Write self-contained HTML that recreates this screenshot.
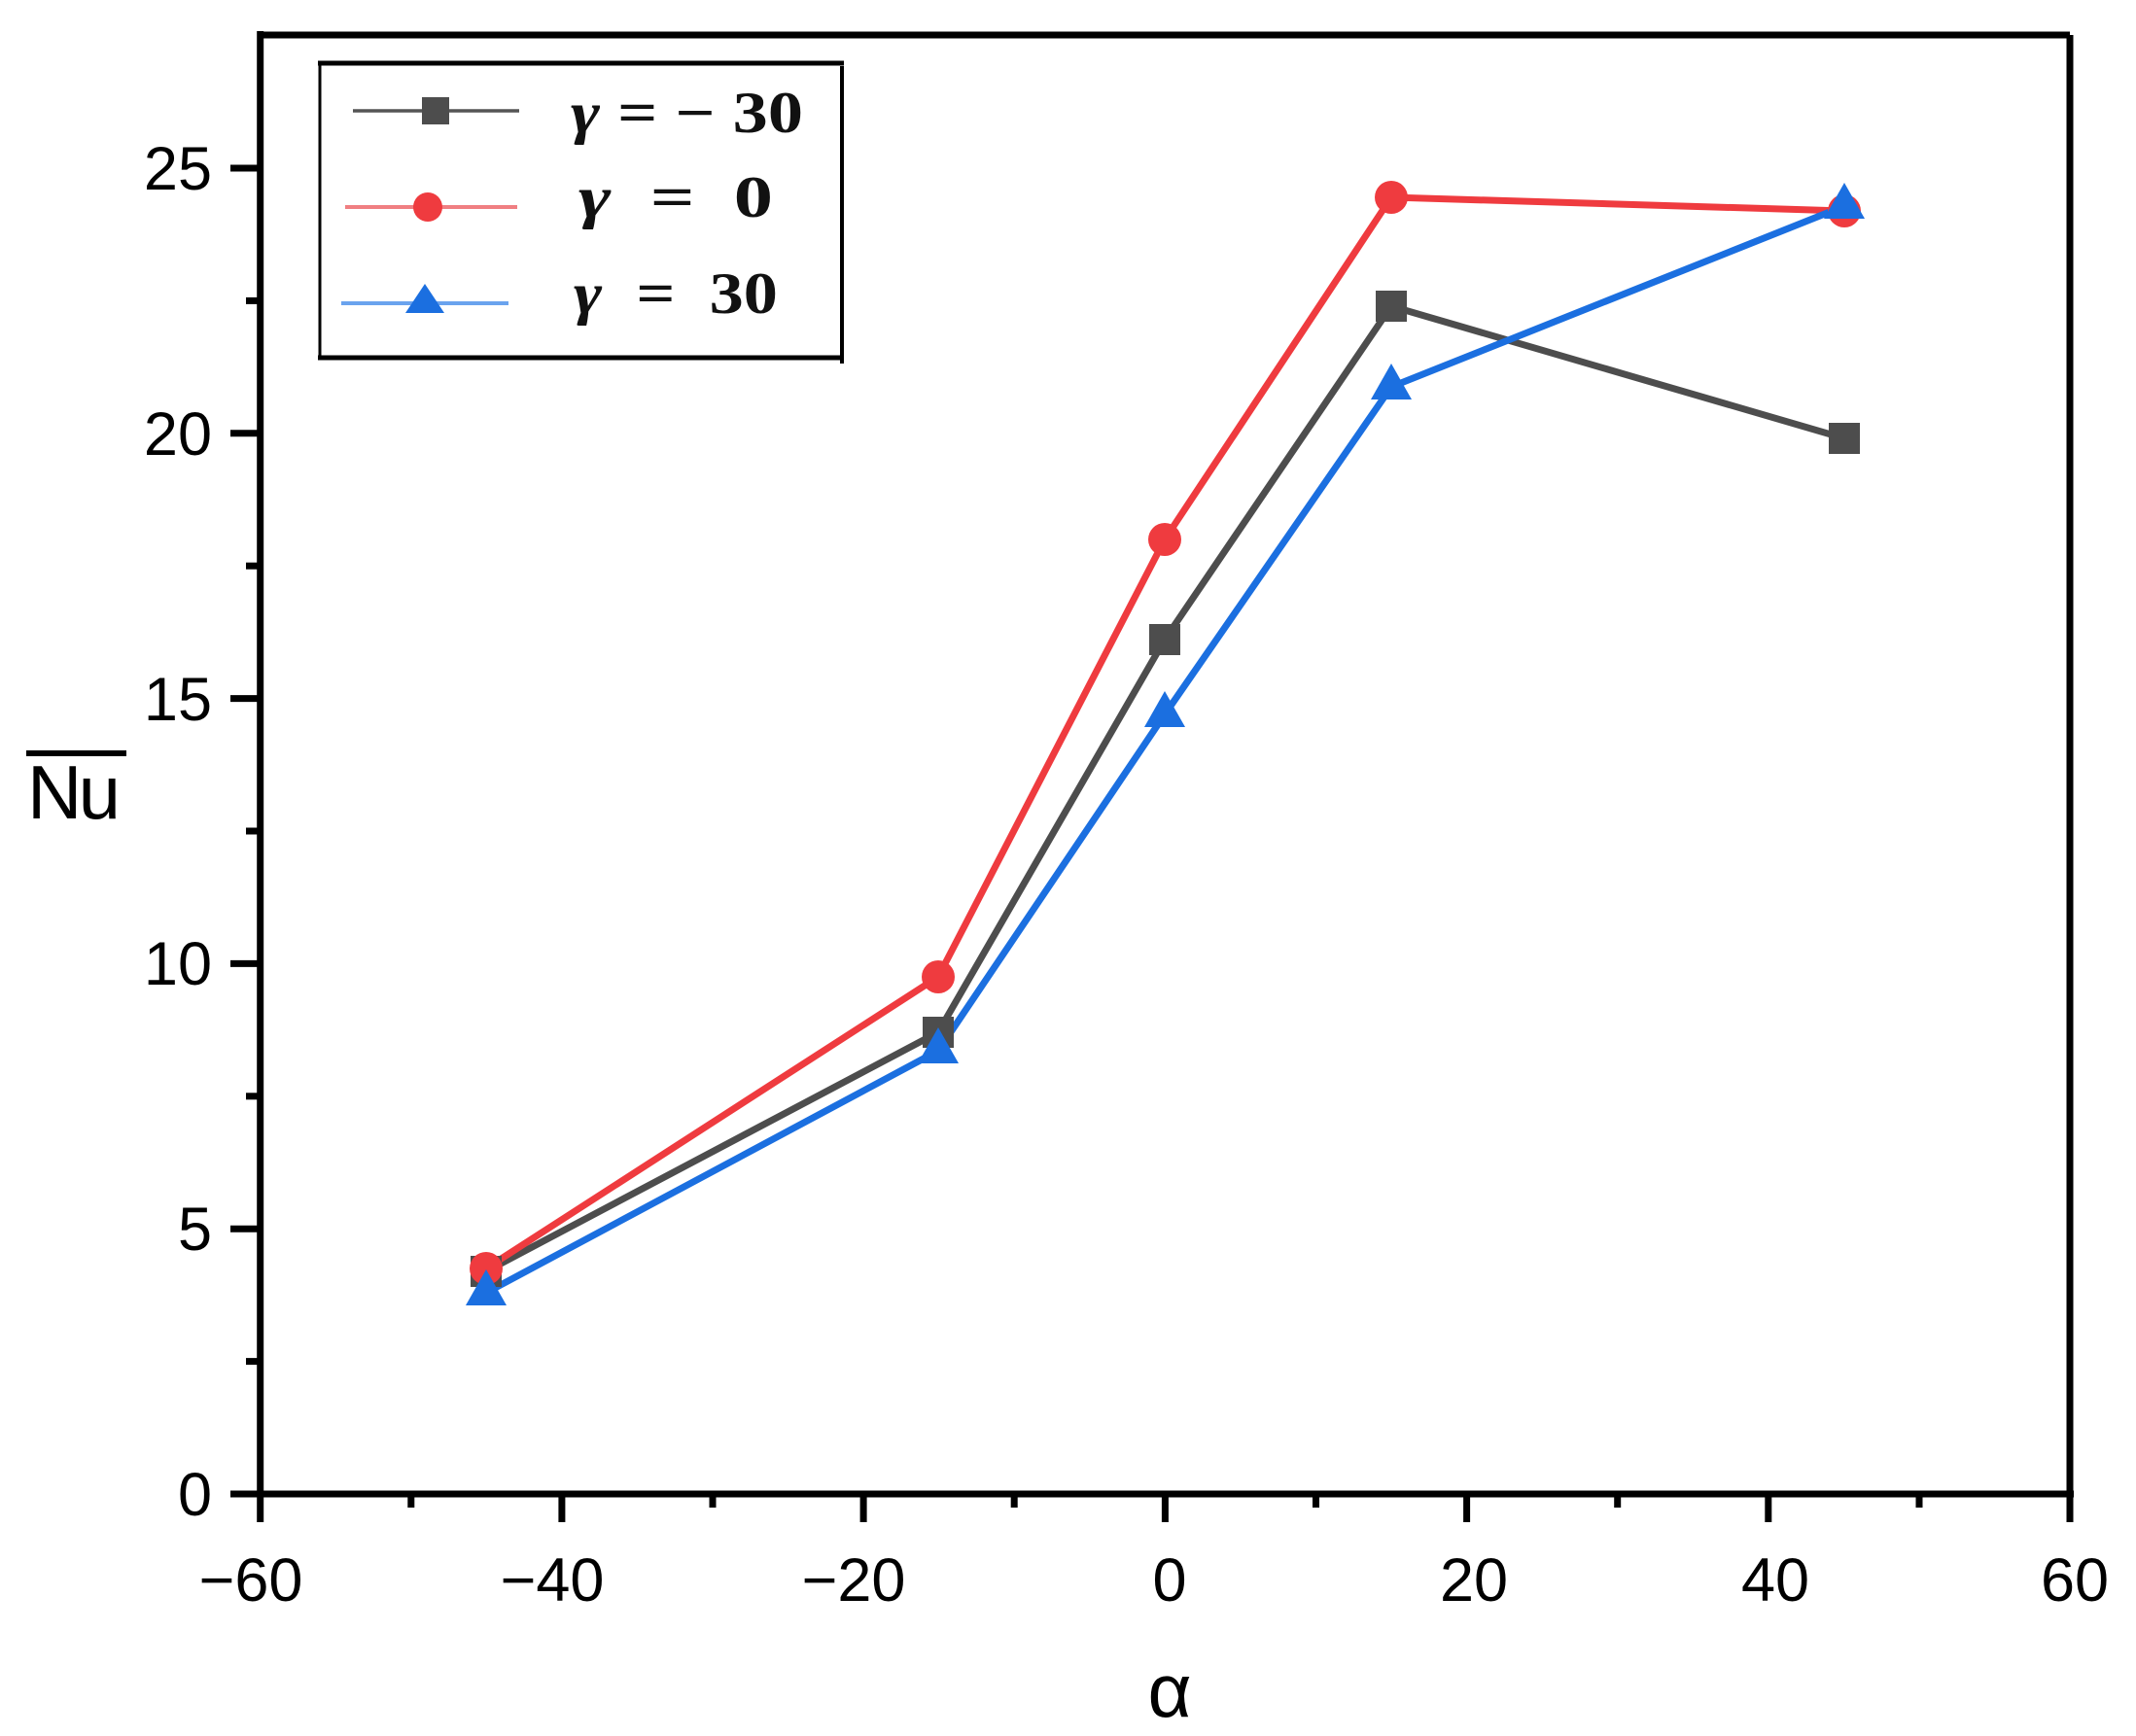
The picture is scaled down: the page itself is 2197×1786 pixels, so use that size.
<!DOCTYPE html>
<html><head><meta charset="utf-8"><style>html,body{margin:0;padding:0;background:#fff}svg{display:block}</style></head>
<body>
<svg width="2197" height="1786" viewBox="0 0 2197 1786" xmlns="http://www.w3.org/2000/svg">
<rect width="2197" height="1786" fill="#fff"/>
<g stroke="#000" stroke-width="7" fill="none">
<line x1="267.7" y1="36" x2="2129" y2="36"/>
<line x1="2129" y1="36" x2="2129" y2="1537"/>
<line x1="237" y1="1537" x2="2133" y2="1537"/>
<line x1="267.7" y1="32" x2="267.7" y2="1566"/>
<line x1="577.9" y1="1537" x2="577.9" y2="1566"/>
<line x1="888.1" y1="1537" x2="888.1" y2="1566"/>
<line x1="1198.4" y1="1537" x2="1198.4" y2="1566"/>
<line x1="1508.6" y1="1537" x2="1508.6" y2="1566"/>
<line x1="1818.8" y1="1537" x2="1818.8" y2="1566"/>
<line x1="2129" y1="1537" x2="2129" y2="1566"/>
<line x1="422.8" y1="1537" x2="422.8" y2="1551"/>
<line x1="733" y1="1537" x2="733" y2="1551"/>
<line x1="1043.2" y1="1537" x2="1043.2" y2="1551"/>
<line x1="1353.5" y1="1537" x2="1353.5" y2="1551"/>
<line x1="1663.7" y1="1537" x2="1663.7" y2="1551"/>
<line x1="1974" y1="1537" x2="1974" y2="1551"/>
<line x1="237" y1="1264.2" x2="267.7" y2="1264.2"/>
<line x1="237" y1="991.4" x2="267.7" y2="991.4"/>
<line x1="237" y1="718.6" x2="267.7" y2="718.6"/>
<line x1="237" y1="445.8" x2="267.7" y2="445.8"/>
<line x1="237" y1="173" x2="267.7" y2="173"/>
<line x1="253" y1="1400.6" x2="267.7" y2="1400.6"/>
<line x1="253" y1="1127.8" x2="267.7" y2="1127.8"/>
<line x1="253" y1="855" x2="267.7" y2="855"/>
<line x1="253" y1="582.2" x2="267.7" y2="582.2"/>
<line x1="253" y1="309.4" x2="267.7" y2="309.4"/>
</g>
<g font-family="Liberation Sans, Arial, sans-serif" font-size="63" fill="#000">
<g text-anchor="middle">
<text x="258" y="1647">−60</text>
<text x="568" y="1647">−40</text>
<text x="878" y="1647">−20</text>
<text x="1203" y="1647">0</text>
<text x="1516" y="1647">20</text>
<text x="1826" y="1647">40</text>
<text x="2134" y="1647">60</text>
</g>
<g text-anchor="end">
<text x="218" y="1559">0</text>
<text x="218" y="1286">5</text>
<text x="218" y="1013">10</text>
<text x="218" y="741">15</text>
<text x="218" y="468">20</text>
<text x="218" y="195">25</text>
</g>
</g>
<text x="28" y="842" font-family="Liberation Sans, Arial, sans-serif" font-size="78" fill="#000" textLength="96">Nu</text>
<line x1="27" y1="775" x2="130" y2="775" stroke="#000" stroke-width="6"/>
<text x="1203" y="1766" text-anchor="middle" font-family="Liberation Sans, Arial, sans-serif" font-size="78" fill="#000">α</text>
<g fill="none" stroke-width="7" stroke-linejoin="round">
<polyline stroke="#4d4d4d" points="500,1308 965,1062 1198,658 1431,315 1897,451"/>
<polyline stroke="#ef3b3f" points="500,1305 965,1005 1198,555 1431,203 1897,217"/>
<polyline stroke="#1b6fe0" points="500,1330 965,1081 1198,735 1431,398 1897,212"/>
</g>
<g fill="#4d4d4d">
<rect x="484" y="1292" width="32" height="32"/>
<rect x="949" y="1046" width="32" height="32"/>
<rect x="1182" y="642" width="32" height="32"/>
<rect x="1415" y="299" width="32" height="32"/>
<rect x="1881" y="435" width="32" height="32"/>
</g>
<g fill="#ef3b3f">
<circle cx="500" cy="1305" r="17"/>
<circle cx="965" cy="1005" r="17"/>
<circle cx="1198" cy="555" r="17"/>
<circle cx="1431" cy="203" r="17"/>
<circle cx="1897" cy="217" r="17"/>
</g>
<g fill="#1b6fe0">
<polygon points="500,1306 479,1343 521,1343"/>
<polygon points="965,1057 944,1094 986,1094"/>
<polygon points="1198,711 1177,748 1219,748"/>
<polygon points="1431,374 1410,411 1452,411"/>
<polygon points="1897,188 1876,225 1918,225"/>
</g>
<g stroke="#000" fill="none">
<line x1="327" y1="65" x2="868" y2="65" stroke-width="5"/>
<line x1="327" y1="368" x2="868" y2="368" stroke-width="5"/>
<line x1="329" y1="65" x2="329" y2="368" stroke-width="3"/>
<line x1="866" y1="68" x2="866" y2="374" stroke-width="4"/>
</g>
<line x1="363" y1="114" x2="534" y2="114" stroke="#555" stroke-width="3.5"/>
<rect x="434" y="100" width="28" height="28" fill="#4d4d4d"/>
<line x1="355" y1="213" x2="532" y2="213" stroke="#f07f82" stroke-width="4"/>
<circle cx="440" cy="213" r="15" fill="#ef3b3f"/>
<line x1="351" y1="312" x2="523" y2="312" stroke="#6aa3ee" stroke-width="4"/>
<polygon points="437,292 417,322 457,322" fill="#1b6fe0"/>
<g font-family="Liberation Serif, serif" font-size="60" font-weight="bold" fill="#111">
<text x="587" y="136" textLength="239" lengthAdjust="spacingAndGlyphs"><tspan font-style="italic">γ</tspan> = − 30</text>
<text x="595" y="223" xml:space="preserve" textLength="200" lengthAdjust="spacingAndGlyphs"><tspan font-style="italic">γ</tspan>  =  0</text>
<text x="590" y="322" xml:space="preserve" textLength="210" lengthAdjust="spacingAndGlyphs"><tspan font-style="italic">γ</tspan>  =  30</text>
</g>
</svg>
</body></html>
